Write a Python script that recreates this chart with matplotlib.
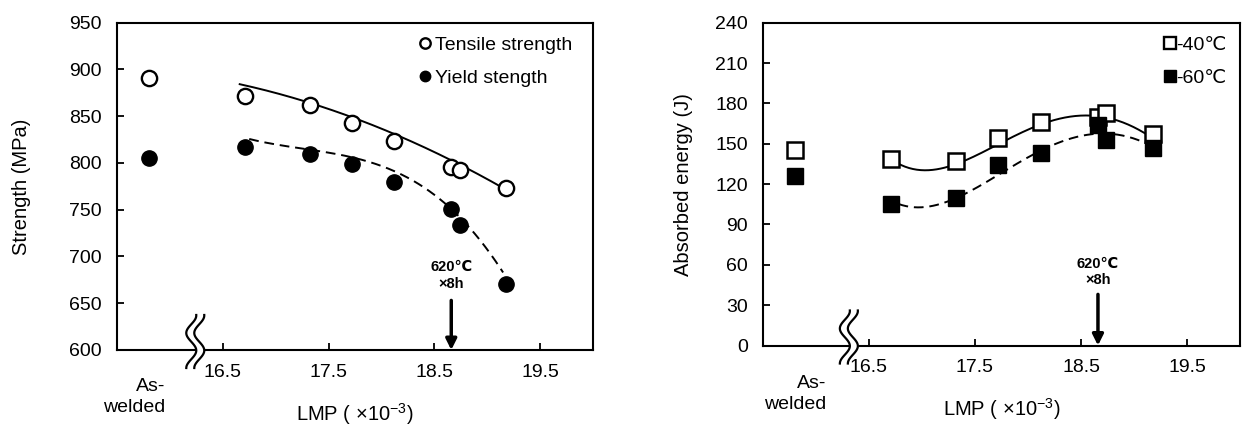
import numpy as np
import matplotlib.pyplot as plt
from matplotlib.lines import Line2D

plt.rcParams['font.family'] = ['Liberation Sans', 'DejaVu Sans']
plt.rcParams['mathtext.fontset'] = 'custom'
plt.rcParams['mathtext.rm'] = 'Liberation Sans'
plt.rcParams['mathtext.it'] = 'Liberation Sans:italic'

# LMP (x10^-3) of the PWHT conditions; as-welded sits left of the axis break
as_welded_x = 15.8
lmp = [16.71, 17.32, 17.72, 18.12, 18.66, 18.74, 19.18]
pwht_lmp = 18.66
xticks = [16.5, 17.5, 18.5, 19.5]

# strength (MPa)
tensile_aw = 891
tensile = [872, 862, 843, 823, 796, 793, 773]
yield_aw = 805
yield_s = [817, 810, 799, 780, 751, 734, 671]

# Charpy absorbed energy (J)
cvn40_aw = 145
cvn40 = [139, 137, 154, 166, 170, 173, 157]
cvn60_aw = 126
cvn60 = [105, 110, 134, 143, 164, 153, 147]

# hand-drawn guide curves
guide_ts_x = [16.66, 17.32, 17.72, 18.13, 18.70, 19.15]
guide_ts_y = [883, 867, 849, 830, 798, 775]
guide_ys_x = [16.75, 17.32, 17.72, 18.13, 18.52, 18.64, 18.89, 19.08, 19.15]
guide_ys_y = [825, 817, 804, 789, 764, 757, 721, 696, 682]
guide_40_x = [16.69, 17.06, 17.35, 17.75, 18.13, 18.38, 18.63, 18.88, 19.17]
guide_40_y = [139, 132.5, 134, 150, 165, 172, 170, 165, 155]
guide_60_x = [16.78, 17.25, 17.53, 17.82, 18.13, 18.45, 18.69, 18.95, 19.17]
guide_60_y = [105, 108, 118, 130.5, 145, 156.5, 158, 153, 149]

FS = 14
W, H = 1242, 428


def guide(ax, x, y, deg, ls):
    p = np.poly1d(np.polyfit(x, y, deg))
    xs = np.linspace(min(x), max(x), 200)
    ax.plot(xs, p(xs), color='black', lw=1.4, ls=ls, zorder=2)


def draw_break(ax, xc):
    # double wavy break mark across the x axis, sized in pixels
    bb = ax.get_position()
    w_px, h_px = bb.width * W, bb.height * H
    x0 = (xc - ax.get_xlim()[0]) / (ax.get_xlim()[1] - ax.get_xlim()[0])
    yy = np.linspace(-18, 35, 80)
    xx = -5 * np.cos(np.pi * (yy + 18) / 17.5)
    ax.fill_betweenx(yy / h_px, x0 + (xx - 4) / w_px, x0 + (xx + 4) / w_px,
                     transform=ax.transAxes, color='white', clip_on=False, zorder=4, lw=0)
    for off in (-4, 4):
        ax.plot(x0 + (xx + off) / w_px, yy / h_px, transform=ax.transAxes,
                color='black', lw=1.6, clip_on=False, zorder=5)


def style(ax, ylim, yticks, ylabel, label_x):
    ax.set_xlim(15.5, 20.0)
    ax.set_ylim(*ylim)
    ax.set_xticks(xticks)
    ax.set_xticklabels([str(t) for t in xticks])
    ax.set_yticks(yticks)
    ax.tick_params(direction='in', length=5, width=1.3, labelsize=FS)
    ax.tick_params(axis='x', pad=10)
    ax.tick_params(axis='y', pad=11)
    for s in ax.spines.values():
        s.set_linewidth(1.5)
    ax.set_ylabel(ylabel, fontsize=FS + 0.5)
    ax.yaxis.set_label_coords(label_x, 0.5)
    ax.set_xlabel('LMP ( \u00d710$^{-3}$)', fontsize=FS + 0.5, va='center')
    ax.xaxis.set_label_coords(0.5, -0.196)


def pwht_arrow(ax, y_tip, y_tail, y_t1, y_t2):
    ax.annotate('', xy=(pwht_lmp, y_tip), xytext=(pwht_lmp, y_tail),
                arrowprops=dict(arrowstyle='-|>', lw=2.5, color='black',
                                mutation_scale=16, shrinkA=0, shrinkB=0))
    fam = ['Liberation Sans Narrow', 'Liberation Sans', 'DejaVu Sans']
    ax.text(pwht_lmp, y_t1, '620\u2103', ha='center', va='center', fontsize=10.5,
            fontweight='bold', family=fam)
    ax.text(pwht_lmp, y_t2, '\u00d78h', ha='center', va='center', fontsize=10.5,
            fontweight='bold', family=fam)


fig = plt.figure(figsize=(W / 100, H / 100), dpi=100)
ax1 = fig.add_axes([117 / W, (H - 350) / H, 476 / W, 327.3 / H])
ax2 = fig.add_axes([763 / W, (H - 345.5) / H, 477 / W, 322.8 / H])

# left: strength
style(ax1, (600, 950), np.arange(600, 951, 50), 'Strength (MPa)', -0.18)
guide(ax1, guide_ts_x, guide_ts_y, 2, '-')
guide(ax1, guide_ys_x, guide_ys_y, 3, (0, (5, 3)))
ax1.plot([as_welded_x] + lmp, [tensile_aw] + tensile, 'o', ms=11, mfc='white',
         mec='black', mew=1.7, ls='none', zorder=3)
ax1.plot([as_welded_x] + lmp, [yield_aw] + yield_s, 'o', ms=11, mfc='black',
         mec='black', ls='none', zorder=3)
h1 = [Line2D([], [], marker='o', ms=7.5, mfc='white', mec='black', mew=1.7, ls='none'),
      Line2D([], [], marker='o', ms=7.5, mfc='black', mec='black', ls='none')]
ax1.legend(h1, ['Tensile strength', 'Yield stength'], loc='upper right', frameon=False,
           fontsize=FS, handlelength=0.4, handletextpad=0.3, labelspacing=0.8,
           borderaxespad=0.3, bbox_to_anchor=(0.985, 1.0))
ax1.text(15.96, 570, 'As-\nwelded', ha='right', va='top', fontsize=FS, linespacing=1.3)
pwht_arrow(ax1, 600, 653, 689, 671)
draw_break(ax1, 16.24)

# right: absorbed energy
style(ax2, (0, 240), np.arange(0, 241, 30), 'Absorbed energy (J)', -0.147)
guide(ax2, guide_40_x, guide_40_y, 4, '-')
guide(ax2, guide_60_x, guide_60_y, 4, (0, (5, 3)))
ax2.plot([as_welded_x] + lmp, [cvn40_aw] + cvn40, 's', ms=11.5, mfc='white',
         mec='black', mew=1.8, ls='none', zorder=3)
ax2.plot([as_welded_x] + lmp, [cvn60_aw] + cvn60, 's', ms=11.5, mfc='black',
         mec='black', ls='none', zorder=3)
h2 = [Line2D([], [], marker='s', ms=8.5, mfc='white', mec='black', mew=1.7, ls='none'),
      Line2D([], [], marker='s', ms=8.5, mfc='black', mec='black', ls='none')]
ax2.legend(h2, ['-40\u2103', '-60\u2103'], loc='upper right', frameon=False,
           fontsize=FS, handlelength=0.4, handletextpad=0.1, labelspacing=0.8,
           borderaxespad=0.3, bbox_to_anchor=(1.0, 1.0))
ax2.text(16.1, -22, 'As-\nwelded', ha='right', va='top', fontsize=FS, linespacing=1.3)
pwht_arrow(ax2, 0, 38, 61, 49)
draw_break(ax2, 16.31)

fig.savefig('out.png', dpi=100)
